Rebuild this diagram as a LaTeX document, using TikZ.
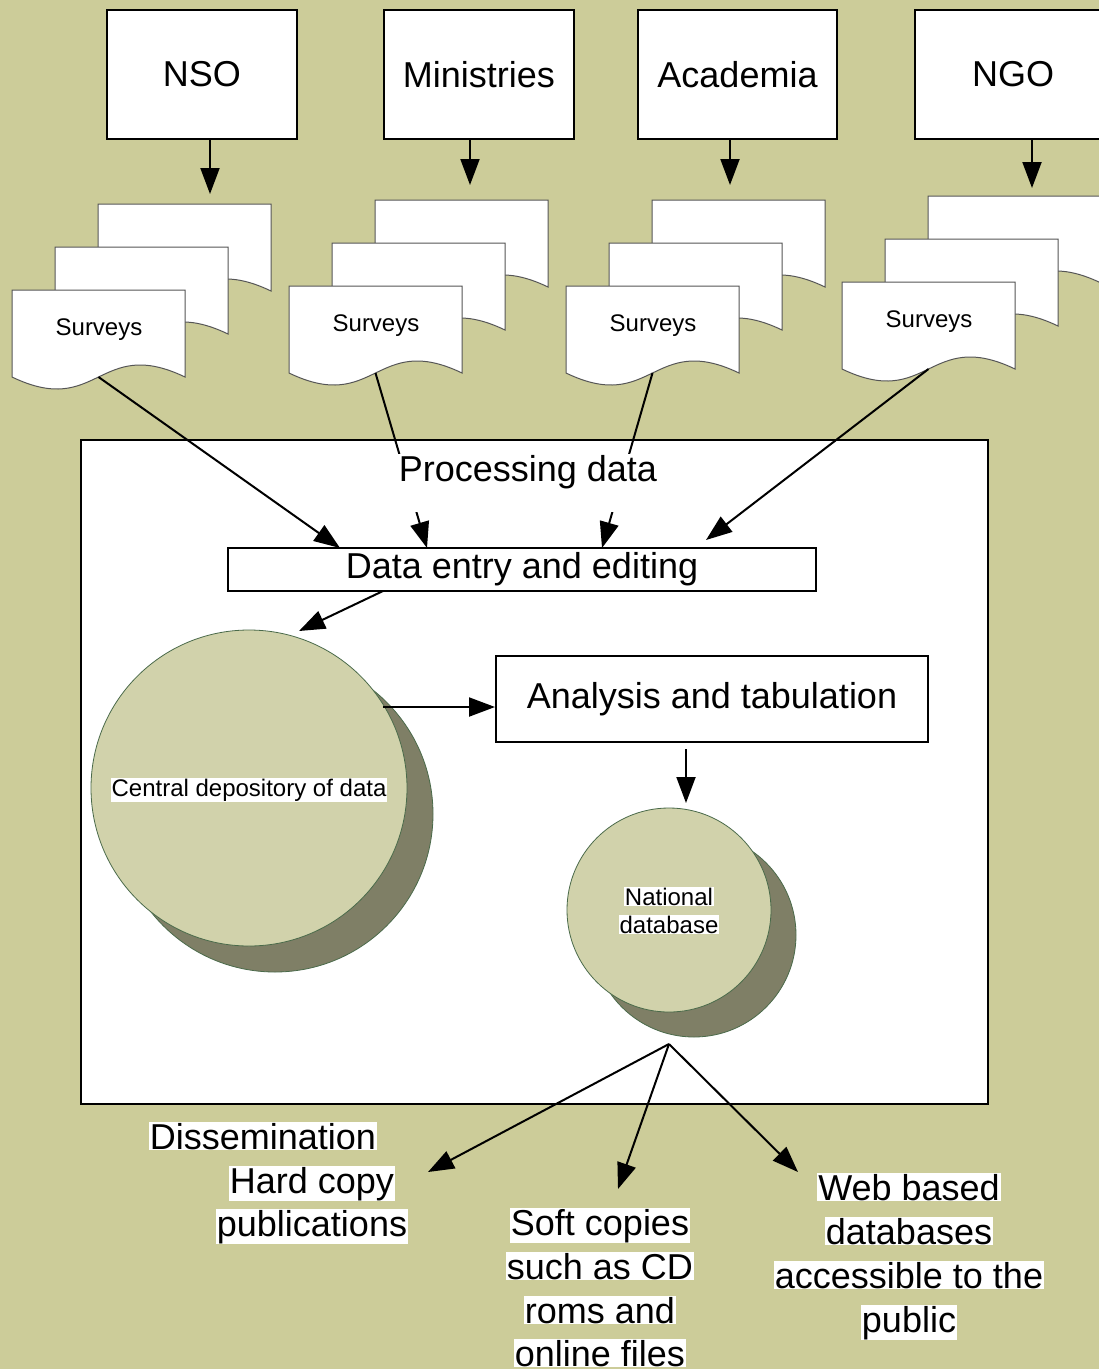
\documentclass[tikz,border=0pt]{standalone}
\usepackage{fontspec}
\setmainfont{Liberation Sans}
\usetikzlibrary{arrows.meta}
\definecolor{bg}{HTML}{CCCC99}
\definecolor{disc}{HTML}{D1D2AB}
\definecolor{discshadow}{HTML}{7F7F66}
\definecolor{discline}{HTML}{4A6A4A}
\definecolor{docline}{HTML}{555555}
\newcommand{\docpage}[2]{%
  \draw[docpaper, shift={(#1,#2)}] (0,0) -- (173,0) -- (173,87)
    .. controls (86.5,45.4) and (86.5,128.6) .. (0,87) -- cycle;}
\newcommand{\surveystack}[3]{%
  \docpage{#2+86}{#3-86}
  \docpage{#2+43}{#3-43}
  \docpage{#2}{#3}
  \node[survtext, anchor=base] (#1) at (#2+87,#3+45) {Surveys};
  \coordinate (#1s) at (#2+86.5,#3+87);}
\begin{document}
\begin{tikzpicture}[x=1pt,y=-1pt,
  docpaper/.style={draw=docline, line width=1pt, fill=white},
  survtext/.style={inner sep=0pt, font=\fontsize{24}{29}\selectfont},
  topbox/.style={draw, line width=2pt, fill=white, minimum width=190pt,
     minimum height=129pt, inner sep=0pt, font=\fontsize{36}{43}\selectfont},
  flatbox/.style={draw, line width=2pt, fill=white, inner sep=0pt,
     font=\fontsize{36}{43}\selectfont},
  arr/.style={draw, line width=2pt, -{Triangle[length=26pt,width=19pt]}},
  hl/.style={fill=white, inner xsep=1pt, inner ysep=1pt},
  bigtext/.style={font=\fontsize{36}{43}\selectfont},
  smalltext/.style={font=\fontsize{24}{29}\selectfont},
  discshad/.style={circle, draw=discline, line width=0.8pt, fill=discshadow, inner sep=0pt},
  discmain/.style={circle, draw=discline, line width=0.8pt, fill=disc, inner sep=0pt}]
\useasboundingbox (0,0) rectangle (1099,1369);
\fill[bg] (0,0) rectangle (1099,1369);

% top boxes
\node[topbox] (nso) at (202,74.5) {NSO};
\node[topbox] (min) at (479,74.5) {Ministries};
\node[topbox, minimum width=199pt] (aca) at (737.5,74.5) {Academia};
\node[topbox, minimum width=196pt] (ngo) at (1013,74.5) {NGO};

% survey stacks
\surveystack{sv1}{12}{290}
\surveystack{sv2}{289}{286}
\surveystack{sv3}{566}{286}
\surveystack{sv4}{842}{282}

% arrows from sources to survey stacks
\coordinate (t1) at (210,194);
\coordinate (t2) at (470,185);
\coordinate (t3) at (730,185);
\coordinate (t4) at (1032,188);
\draw[arr] (nso.south -| t1) -- (t1);
\draw[arr] (min.south -| t2) -- (t2);
\draw[arr] (aca.south -| t3) -- (t3);
\draw[arr] (ngo.south -| t4) -- (t4);

% main processing box
\node[draw, line width=2pt, fill=white, minimum width=907pt, minimum height=664pt, inner sep=0pt] (procbox) at (534.5,772) {};

% inner boxes
\node[flatbox, minimum width=588pt, minimum height=43pt] (de) at (522,569.5) {Data entry and editing};
\node[flatbox, minimum width=432pt, minimum height=86pt] (an) at (712,699) {Analysis and tabulation};

% arrows into data entry
\coordinate (d1) at (340,548);
\coordinate (d2) at (427,548);
\coordinate (d3) at (602,548);
\coordinate (d4) at (706,540);
\draw[arr] (sv1s) -- (d1);
\draw[arr] (sv2s) -- (d2);
\draw[arr] (sv3s) -- (d3);
\draw[arr] (sv4s) -- (d4);

% processing label covering the crossing lines
\node[bigtext, fill=white, inner xsep=4pt, inner ysep=0pt, text height=27pt, text depth=31pt, anchor=base] (proc) at (528,481) {Processing data};

% discs
\node[discshad, minimum size=316pt] (cdsh) at (275,814) {};
\node[discmain, minimum size=316pt] (cd) at (249,788) {};
\node[smalltext, hl, anchor=base] (cdt) at (249,796) {Central depository of data};

\node[discshad, minimum size=204pt] (ndsh) at (694,935) {};
\node[discmain, minimum size=204pt] (nd) at (669,910) {};
\node[smalltext, hl, anchor=base] (ndt1) at (669,905) {National};
\node[smalltext, hl, anchor=base] (ndt2) at (669,933) {database};

% inner arrows
\coordinate (e1) at (383,591);
\coordinate (e2) at (299,631);
\draw[arr] (e1) -- (e2);
\coordinate (c1) at (383,707);
\draw[arr] (c1) -- (an.west |- c1);
\coordinate (a1) at (686,749);
\coordinate (a2) at (686,803);
\draw[arr] (a1) -- (a2);

% dissemination arrows
\coordinate (dist) at (669,1044);
\coordinate (o1) at (428,1172);
\coordinate (o2) at (618,1189);
\coordinate (o3) at (798,1172);
\draw[arr] (dist) -- (o1);
\draw[arr] (dist) -- (o2);
\draw[arr] (dist) -- (o3);

% bottom texts
\node[bigtext, hl, anchor=base] (dis) at (263,1149) {Dissemination};
\node[bigtext, hl, anchor=base] (hc1) at (312,1193) {Hard copy};
\node[bigtext, hl, anchor=base] (hc2) at (312,1236) {publications};

\node[bigtext, hl, anchor=base] (sc1) at (600,1235) {Soft copies};
\node[bigtext, hl, anchor=base] (sc2) at (600,1279) {such as CD};
\node[bigtext, hl, anchor=base] (sc3) at (600,1323) {roms and};
\node[bigtext, hl, anchor=base] (sc4) at (600,1366) {online files};

\node[bigtext, hl, anchor=base] (wb1) at (909,1200) {Web based};
\node[bigtext, hl, anchor=base] (wb2) at (909,1244) {databases};
\node[bigtext, hl, anchor=base] (wb3) at (909,1288) {accessible to the};
\node[bigtext, hl, anchor=base] (wb4) at (909,1332) {public};
\end{tikzpicture}
\end{document}
